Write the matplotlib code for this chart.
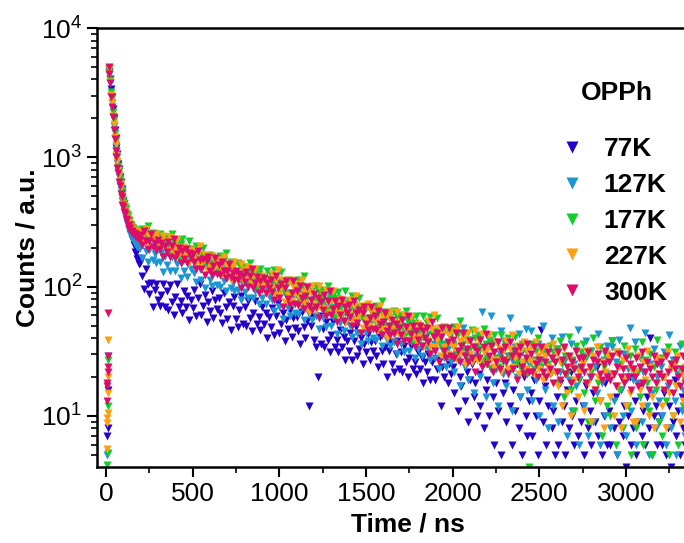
import numpy as np
import matplotlib
matplotlib.use('Agg')
import matplotlib.pyplot as plt
from matplotlib.ticker import MultipleLocator, LogLocator

plt.rcParams['font.family'] = ['Liberation Sans', 'DejaVu Sans']
plt.rcParams['mathtext.fontset'] = 'custom'
plt.rcParams['mathtext.rm'] = 'Liberation Sans'
plt.rcParams['font.size'] = 19

labels = ['77K', '127K', '177K', '227K', '300K']
colors = ['#2400cc', '#1a96d2', '#12cc2a', '#ffa010', '#dc0c68']

# time channels (ns)
t_early = np.arange(15, 200, 5)
t_late = np.arange(200, 3350, 10)

# points before the pulse
rise_t_77 = [8, 10, 12]
rise_77 = [7, 8, 16]
rise_t_127 = [8, 11]
rise_127 = [5, 29]
rise_t_177 = [6, 9, 11, 12]
rise_177 = [4.2, 5.2, 12, 27]
rise_t_227 = [6, 7, 8, 9, 10, 11, 12]
rise_227 = [5.6, 8.8, 9.7, 10.6, 15, 20, 39]
rise_t_300 = [6, 7, 8, 9, 10, 11, 12]
rise_300 = [13, 17, 18, 22, 24, 29, 63]

# fast decay, 15-195 ns
early_77 = [4800, 4550, 4050, 3350, 2950, 2350, 2030, 1620, 1420, 1180, 1060, 895, 815, 700, 650, 565, 530, 462, 432,
            380, 356, 316, 300, 285, 279, 258, 252, 233, 228, 209, 205, 186, 183, 165, 166, 150, 151]
early_127 = [4650, 4300, 3750, 3000, 2650, 2060, 1750, 1390, 1220, 1010, 905, 770, 700, 605, 560, 488, 462, 414, 396,
             356, 343, 313, 304, 281, 276, 256, 253, 238, 236, 223, 222, 212, 213, 204, 206, 198, 200]
early_177 = [4750, 4450, 3950, 3200, 2850, 2250, 1930, 1530, 1350, 1120, 1010, 850, 780, 680, 630, 550, 520, 470, 445,
             410, 395, 362, 354, 330, 324, 305, 301, 287, 286, 274, 275, 265, 267, 258, 261, 252, 255]
early_227 = [4850, 4400, 3850, 3050, 2700, 2100, 1800, 1430, 1260, 1040, 935, 795, 725, 630, 585, 510, 485, 438, 420,
             382, 370, 340, 334, 312, 308, 291, 290, 277, 276, 266, 267, 257, 258, 250, 252, 244, 248]
early_300 = [4950, 4400, 3750, 2950, 2450, 2050, 1620, 1380, 1120, 1000, 830, 760, 650, 600, 520, 490, 430, 415, 375,
             365, 332, 326, 300, 299, 281, 283, 265, 270, 255, 262, 248, 256, 240, 249, 236, 242, 229]

# slow tail, 200-3340 ns (one row = 150 ns)
late_77 = [162, 120, 96, 138, 105, 88, 107, 70, 95, 104, 79, 71, 86, 105, 70,
           92, 66, 103, 76, 60, 83, 105, 69, 78, 62, 93, 69, 84, 55, 79,
           68, 94, 59, 82, 104, 60, 71, 86, 53, 76, 65, 92, 57, 79, 67,
           82, 63, 52, 90, 69, 56, 76, 46, 71, 83, 56, 49, 66, 85, 51,
           69, 50, 77, 57, 45, 62, 78, 51, 58, 46, 69, 51, 62, 40, 58,
           49, 68, 42, 59, 75, 44, 51, 62, 38, 55, 47, 66, 41, 57, 48,
           58, 45, 36, 64, 49, 40, 54, 12, 50, 58, 39, 34, 20, 59, 36,
           47, 34, 53, 39, 31, 42, 53, 34, 39, 31, 46, 34, 41, 27, 38,
           32, 44, 27, 38, 49, 29, 33, 40, 25, 36, 31, 43, 27, 37, 32,
           38, 29, 24, 41, 32, 25, 34, 20, 32, 37, 25, 22, 30, 38, 23,
           31, 22, 35, 26, 20, 28, 35, 23, 26, 21, 31, 23, 28, 18, 26,
           22, 30, 19, 26, 33, 19, 23, 27, 12, 24, 20, 29, 18, 25, 21,
           24, 15, 28, 11, 20, 17, 31, 13, 22, 9, 19, 25, 14, 18, 10,
           21, 12, 26, 8, 16, 19, 10, 23, 14, 6, 18, 11, 28, 5, 15,
           18, 9, 22, 12, 6, 16, 11, 25, 8, 14, 5, 20, 10, 7, 13,
           15, 7, 19, 10, 5, 13, 46, 9, 17, 6, 12, 21, 8, 11, 5,
           14, 6, 18, 9, 12, 5, 16, 8, 22, 10, 6, 13, 7, 19, 9,
           12, 5, 17, 8, 11, 6, 15, 9, 24, 7, 13, 5, 10, 18, 6,
           11, 6, 38, 8, 14, 5, 9, 16, 7, 12, 4, 10, 20, 6, 8,
           13, 5, 9, 17, 7, 11, 6, 14, 8, 40, 5, 10, 12, 6, 9,
           10, 6, 15, 5, 8, 12, 4, 9, 19, 7, 11, 5, 14, 8, 6]
late_127 = [216, 168, 238, 187, 156, 191, 227, 162, 180, 151, 197, 156, 183, 129, 173,
            147, 190, 131, 171, 206, 132, 149, 171, 117, 156, 132, 172, 119, 154, 136,
            157, 127, 109, 169, 136, 113, 144, 97, 136, 152, 112, 101, 125, 154, 103,
            129, 100, 142, 111, 93, 116, 137, 98, 109, 92, 119, 95, 111, 79, 105,
            91, 118, 81, 106, 128, 82, 92, 106, 73, 97, 82, 107, 74, 96, 84,
            103, 79, 65, 113, 87, 69, 94, 56, 87, 102, 68, 59, 80, 103, 62,
            84, 61, 94, 69, 55, 74, 93, 61, 69, 55, 80, 59, 72, 47, 68,
            57, 79, 49, 69, 88, 50, 58, 70, 43, 63, 52, 73, 45, 63, 54,
            65, 50, 41, 72, 55, 44, 60, 36, 56, 65, 44, 38, 51, 66, 40,
            54, 39, 61, 45, 35, 47, 59, 39, 44, 35, 50, 37, 46, 30, 43,
            36, 50, 31, 44, 56, 32, 37, 45, 28, 40, 33, 47, 29, 41, 35,
            42, 33, 27, 47, 36, 28, 39, 23, 36, 42, 28, 24, 33, 42, 26,
            36, 22, 44, 27, 17, 32, 48, 24, 30, 19, 39, 26, 15, 34, 29,
            41, 20, 64, 25, 14, 33, 27, 59, 18, 37, 23, 12, 30, 45, 21,
            38, 17, 29, 57, 11, 26, 34, 20, 43, 14, 31, 22, 47, 16, 25,
            45, 13, 27, 19, 36, 10, 24, 50, 16, 30, 8, 21, 40, 12, 26,
            33, 9, 22, 41, 14, 27, 7, 19, 36, 11, 25, 17, 46, 6, 23,
            29, 12, 38, 7, 20, 32, 9, 24, 15, 43, 6, 18, 27, 10, 35,
            21, 8, 34, 13, 26, 5, 39, 16, 10, 30, 7, 23, 48, 11, 19,
            37, 6, 18, 28, 9, 22, 44, 12, 5, 25, 15, 33, 8, 20, 13,
            24, 10, 31, 6, 17, 42, 8, 27, 13, 5, 21, 35, 11, 16, 7]
late_177 = [248, 281, 235, 268, 294, 229, 242, 261, 217, 249, 223, 255, 212, 242, 228,
            244, 211, 189, 257, 222, 189, 223, 168, 215, 234, 181, 167, 196, 226, 171,
            194, 162, 207, 175, 153, 175, 198, 156, 168, 148, 176, 149, 166, 130, 160,
            143, 172, 132, 160, 182, 129, 141, 156, 119, 146, 127, 153, 117, 141, 129,
            143, 124, 111, 151, 130, 110, 131, 98, 126, 137, 106, 99, 115, 133, 101,
            122, 95, 134, 106, 88, 109, 130, 93, 103, 87, 112, 89, 105, 74, 99,
            86, 112, 77, 101, 121, 77, 87, 100, 69, 92, 78, 102, 71, 91, 81,
            94, 76, 66, 101, 82, 68, 86, 58, 81, 91, 67, 60, 75, 92, 62,
            78, 60, 85, 67, 56, 69, 82, 59, 65, 55, 71, 57, 66, 47, 63,
            55, 71, 49, 64, 77, 49, 55, 64, 44, 58, 50, 65, 45, 58, 51,
            60, 49, 42, 65, 53, 44, 55, 37, 52, 59, 43, 39, 48, 59, 40,
            52, 37, 58, 43, 34, 45, 57, 37, 42, 33, 49, 36, 44, 29, 42,
            35, 49, 30, 43, 54, 31, 36, 44, 27, 39, 33, 46, 28, 40, 34,
            42, 33, 27, 47, 36, 28, 39, 23, 36, 42, 28, 24, 33, 42, 26,
            36, 26, 40, 29, 23, 32, 41, 26, 30, 24, 36, 26, 32, 21, 4,
            26, 36, 23, 32, 40, 24, 27, 33, 20, 30, 25, 35, 22, 31, 26,
            33, 18, 38, 25, 14, 29, 21, 41, 16, 27, 11, 35, 23, 19, 31,
            36, 15, 28, 9, 32, 22, 40, 13, 26, 18, 34, 7, 24, 30, 12,
            27, 10, 38, 21, 6, 31, 16, 25, 8, 35, 19, 12, 29, 5, 23,
            33, 8, 22, 14, 37, 6, 27, 18, 11, 30, 5, 24, 16, 39, 9,
            28, 7, 20, 13, 34, 5, 25, 10, 31, 17, 6, 23, 36, 12, 19]
late_227 = [268, 241, 223, 278, 250, 219, 247, 203, 242, 256, 211, 198, 222, 246, 203,
            227, 189, 242, 204, 179, 203, 230, 181, 195, 172, 204, 173, 193, 151, 186,
            161, 193, 149, 180, 205, 146, 158, 176, 134, 165, 144, 174, 134, 161, 147,
            162, 140, 126, 171, 147, 125, 148, 112, 143, 155, 120, 111, 130, 150, 113,
            134, 112, 143, 120, 105, 120, 136, 107, 115, 101, 120, 102, 113, 89, 109,
            97, 125, 86, 112, 135, 86, 97, 112, 76, 102, 86, 113, 78, 101, 89,
            104, 85, 73, 113, 91, 75, 95, 64, 90, 101, 73, 66, 82, 101, 68,
            87, 67, 95, 75, 62, 77, 92, 66, 73, 61, 80, 63, 74, 52, 70,
            61, 79, 54, 71, 85, 55, 61, 71, 48, 64, 55, 73, 50, 65, 57,
            66, 54, 46, 71, 58, 47, 60, 40, 57, 64, 47, 42, 52, 64, 43,
            54, 42, 60, 47, 39, 49, 58, 41, 46, 39, 51, 41, 48, 34, 45,
            39, 54, 34, 47, 60, 34, 39, 48, 29, 42, 34, 48, 30, 42, 36,
            45, 34, 28, 49, 38, 30, 41, 25, 38, 44, 30, 26, 35, 45, 27,
            38, 27, 43, 31, 25, 33, 42, 27, 31, 24, 37, 27, 33, 22, 31,
            27, 38, 23, 33, 42, 24, 28, 35, 21, 31, 26, 37, 23, 32, 27,
            34, 26, 21, 37, 29, 23, 32, 19, 29, 34, 24, 21, 28, 36, 22,
            30, 17, 26, 12, 33, 21, 15, 28, 10, 24, 19, 31, 14, 22, 27,
            25, 11, 32, 18, 23, 9, 29, 16, 34, 20, 13, 26, 8, 22, 30,
            28, 14, 21, 10, 31, 17, 24, 8, 27, 19, 12, 33, 15, 23, 9,
            22, 9, 29, 16, 12, 26, 19, 32, 10, 24, 14, 8, 28, 18, 21,
            27, 12, 20, 8, 31, 15, 23, 10, 25, 17, 29, 9, 21, 13, 24]
late_300 = [251, 209, 267, 225, 197, 227, 257, 203, 218, 192, 228, 194, 216, 169, 208,
            184, 221, 171, 206, 235, 166, 180, 200, 153, 187, 163, 197, 151, 182, 167,
            178, 154, 138, 187, 162, 138, 164, 123, 158, 171, 133, 123, 144, 167, 126,
            147, 122, 156, 132, 116, 132, 150, 118, 127, 112, 132, 112, 125, 98, 120,
            108, 130, 100, 121, 138, 97, 106, 118, 90, 110, 96, 116, 89, 107, 98,
            113, 91, 79, 121, 98, 82, 104, 70, 98, 110, 80, 72, 89, 110, 74,
            93, 72, 102, 81, 67, 84, 100, 71, 79, 66, 87, 69, 81, 57, 76,
            66, 86, 59, 77, 93, 60, 67, 78, 53, 71, 60, 79, 54, 70, 62,
            72, 58, 50, 78, 63, 52, 66, 44, 62, 70, 51, 46, 57, 70, 47,
            59, 46, 65, 51, 42, 53, 63, 45, 50, 42, 55, 44, 51, 36, 48,
            42, 55, 38, 49, 59, 38, 43, 50, 34, 45, 39, 50, 35, 45, 40,
            48, 37, 30, 53, 41, 32, 44, 26, 41, 48, 32, 28, 37, 48, 29,
            39, 28, 44, 32, 26, 35, 44, 29, 33, 26, 38, 28, 34, 22, 32,
            28, 39, 24, 34, 43, 25, 29, 35, 22, 31, 26, 37, 23, 32, 27,
            34, 26, 21, 37, 29, 23, 32, 19, 29, 34, 24, 21, 28, 36, 22,
            30, 22, 34, 25, 20, 27, 34, 22, 26, 20, 31, 23, 28, 18, 26,
            22, 31, 19, 27, 34, 21, 24, 29, 18, 26, 23, 32, 20, 28, 24,
            28, 22, 18, 31, 24, 20, 27, 16, 26, 30, 21, 19, 25, 32, 20,
            26, 19, 29, 21, 17, 24, 30, 20, 23, 18, 28, 20, 25, 16, 23,
            20, 28, 17, 24, 31, 18, 22, 26, 16, 23, 20, 29, 18, 25, 21,
            26, 20, 16, 29, 22, 18, 25, 15, 23, 27, 20, 17, 23, 29, 18]

series = [(rise_t_77, rise_77, early_77, late_77),
          (rise_t_127, rise_127, early_127, late_127),
          (rise_t_177, rise_177, early_177, late_177),
          (rise_t_227, rise_227, early_227, late_227),
          (rise_t_300, rise_300, early_300, late_300)]

fig = plt.figure(figsize=(6.84, 5.43), dpi=100)
ax = fig.add_axes([97 / 684, 76 / 543, 622 / 684, 439 / 543])

for lab, col, (rt, rc, ec, lc) in zip(labels, colors, series):
    t = np.concatenate([rt, t_early, t_late])
    c = np.concatenate([rc, ec, lc])
    ax.plot(t, c, 'v', ms=5.8, color=col, mec='none', label=lab)

ax.set_yscale('log')
ax.set_xlim(-52, 3536)
ax.set_ylim(4.03, 1e4)
ax.set_xticks(np.arange(0, 3001, 500))
ax.xaxis.set_minor_locator(MultipleLocator(250))
ax.yaxis.set_major_locator(LogLocator(base=10))
ax.yaxis.set_minor_locator(LogLocator(base=10, subs=np.arange(2, 10)))
ax.tick_params(which='major', direction='out', length=7, width=1.5, labelsize=19)
ax.tick_params(which='minor', direction='out', length=4, width=1.2)
ax.tick_params(top=False, right=False)
for s in ax.spines.values():
    s.set_linewidth(1.8)

ax.set_xlabel('Time / ns', fontweight='bold', fontsize=19, labelpad=5)
ax.set_ylabel('Counts / a.u.', fontweight='bold', fontsize=19, labelpad=1)

leg = ax.legend(loc='upper left', bbox_to_anchor=(559 / 684, 1 - 137 / 543),
                bbox_transform=fig.transFigure, frameon=False, numpoints=1,
                markerscale=1.4, handlelength=1.0, handletextpad=0.7,
                labelspacing=0.45, borderpad=0, borderaxespad=0,
                prop={'weight': 'bold', 'size': 19})
fig.text(617 / 684, 1 - 93 / 543, 'OPPh', ha='center', va='center',
         fontweight='bold', fontsize=19)

fig.savefig('out.png', dpi=100)
